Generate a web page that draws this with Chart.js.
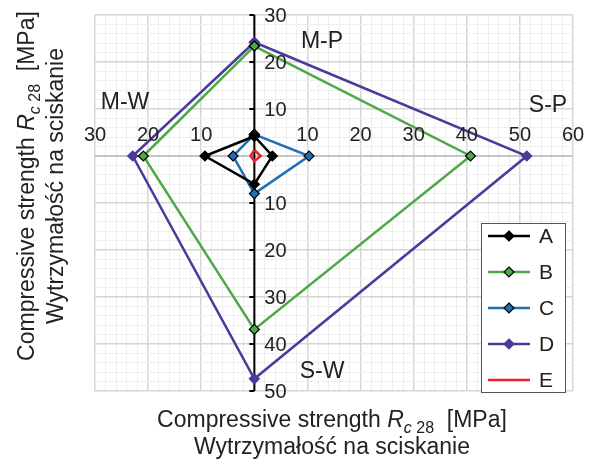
<!DOCTYPE html>
<html><head><meta charset="utf-8">
<script src="https://cdn.jsdelivr.net/npm/chart.js@4.4.1/dist/chart.umd.min.js"></script>
<style>html,body{margin:0;padding:0;background:#fff}#wrap{width:589px;height:462px}</style>
</head><body><div id="wrap"><canvas id="c" width="589" height="462"></canvas></div>
<script>
// Directions: M-P (up), S-P (right), S-W (down), M-W (left)
const categories = ['M-P', 'S-P', 'S-W', 'M-W'];
const seriesNames = ['A', 'B', 'C', 'D', 'E'];
const valuesA = [4.2, 3.4, 6.0, 9.3];
const valuesB = [23.4, 40.7, 36.9, 20.9];
const valuesC = [4.6, 10.3, 8.0, 4.0];
const valuesD = [24.2, 51.3, 47.4, 22.9];
const valuesE = [1.3, 1.2, 1.1, 0.7];
const xTickLabels = [-30, -20, -10, 10, 20, 30, 40, 50, 60];
const yTickLabels = [30, 20, 10, -10, -20, -30, -40, -50];

const colors = ['#000000', '#4EA847', '#1F6FB5', '#4B3A9C', '#E8202A'];
const pointFill = ['#000000', '#4EA847', '#1F6FB5', '#4B3A9C', '#E8202A'];
const pointBorder = ['#000000', '#000000', '#000000', '#4B3A9C', '#E8202A'];
const allValues = [valuesA, valuesB, valuesC, valuesD, valuesE];

function toPoints(v) {
  const pts = [
    {x: 0, y: v[0]},
    {x: v[1], y: 0},
    {x: 0, y: -v[2]},
    {x: -v[3], y: 0}
  ];
  pts.push({x: 0, y: v[0]});
  return pts;
}

const datasets = allValues.map((v, i) => ({
  label: seriesNames[i],
  data: toPoints(v),
  showLine: true,
  borderColor: colors[i],
  borderWidth: 2.5,
  pointStyle: 'rectRot',
  pointRadius: i === 4 ? 0 : 5,
  pointBackgroundColor: pointFill[i],
  pointBorderColor: pointBorder[i],
  pointBorderWidth: 1.2,
  tension: 0
}));

const FONT = '"Liberation Sans", Arial, sans-serif';

function richWidth(ctx, segs) {
  let w = 0;
  segs.forEach(s => { ctx.font = s.font; w += ctx.measureText(s.t).width; });
  return w;
}
function drawRich(ctx, segs, cx, cy) {
  const w = richWidth(ctx, segs);
  let x = cx - w / 2;
  ctx.textBaseline = 'middle';
  ctx.textAlign = 'left';
  segs.forEach(s => {
    ctx.font = s.font;
    ctx.fillText(s.t, x, cy + (s.dy || 0));
    x += ctx.measureText(s.t).width;
  });
}
const titleSegs = [
  {t: 'Compressive strength ', font: '23px ' + FONT},
  {t: 'R', font: 'italic 23px ' + FONT},
  {t: 'c', font: 'italic 16px ' + FONT, dy: 8},
  {t: ' 28', font: '16px ' + FONT, dy: 8},
  {t: '  [MPa]', font: '23px ' + FONT}
];
const title2 = 'Wytrzymałość na sciskanie';

const decor = {
  id: 'decor',
  beforeDatasetsDraw(chart) {
    const ctx = chart.ctx, xs = chart.scales.x, ys = chart.scales.y;
    const x0 = xs.getPixelForValue(0), y0 = ys.getPixelForValue(0);
    ctx.save();
    ctx.strokeStyle = '#bdbdbd';
    ctx.lineWidth = 1.5;
    ctx.beginPath();
    ctx.moveTo(xs.left, y0); ctx.lineTo(xs.right, y0); ctx.stroke();
    ctx.strokeStyle = '#000';
    ctx.lineWidth = 2;
    ctx.beginPath();
    ctx.moveTo(x0, ys.top); ctx.lineTo(x0, ys.bottom); ctx.stroke();
    yTickLabels.forEach(v => {
      const py = ys.getPixelForValue(v);
      ctx.beginPath(); ctx.moveTo(x0 - 5, py); ctx.lineTo(x0, py); ctx.stroke();
    });
    ctx.restore();
  },
  afterDatasetsDraw(chart) {
    const ctx = chart.ctx, xs = chart.scales.x, ys = chart.scales.y;
    const x0 = xs.getPixelForValue(0), y0 = ys.getPixelForValue(0);
    ctx.save();
    ctx.fillStyle = '#222';
    ctx.font = '20px ' + FONT;
    ctx.textBaseline = 'middle';
    ctx.textAlign = 'center';
    xTickLabels.forEach(v => {
      ctx.fillText(String(Math.abs(v)), xs.getPixelForValue(v), y0 - 21);
    });
    ctx.textAlign = 'left';
    yTickLabels.forEach(v => {
      ctx.fillText(String(Math.abs(v)), x0 + 10, ys.getPixelForValue(v) + 1);
    });
    ctx.font = '23px ' + FONT;
    ctx.textAlign = 'center';
    ctx.fillText(categories[0], 322, 42);
    ctx.fillText(categories[1], 548, 106);
    ctx.fillText(categories[2], 322, 372);
    ctx.fillText(categories[3], 125, 103);

    // legend
    const lx = 481, ly = 223, lw = 84, lh = 169;
    ctx.fillStyle = '#fff';
    ctx.fillRect(lx, ly, lw, lh);
    ctx.strokeStyle = '#555';
    ctx.lineWidth = 1;
    ctx.strokeRect(lx + 0.5, ly + 0.5, lw, lh);
    chart.data.datasets.forEach((ds, i) => {
      const ry = 236 + i * 36;
      ctx.strokeStyle = ds.borderColor;
      ctx.lineWidth = 2.5;
      ctx.beginPath(); ctx.moveTo(488, ry); ctx.lineTo(530, ry); ctx.stroke();
      if (ds.pointRadius > 0) {
        ctx.fillStyle = ds.pointBackgroundColor;
        ctx.strokeStyle = ds.pointBorderColor;
        ctx.lineWidth = 1.2;
        ctx.beginPath();
        ctx.moveTo(509, ry - 5); ctx.lineTo(514, ry); ctx.lineTo(509, ry + 5); ctx.lineTo(504, ry); ctx.closePath();
        ctx.fill(); ctx.stroke();
      }
      ctx.fillStyle = '#222';
      ctx.font = '21px ' + FONT;
      ctx.textAlign = 'left';
      ctx.textBaseline = 'middle';
      ctx.fillText(ds.label, 539, ry + 1);
    });

    // axis titles
    ctx.fillStyle = '#222';
    drawRich(ctx, titleSegs, 332, 421);
    ctx.font = '23px ' + FONT;
    ctx.textAlign = 'center';
    ctx.fillText(title2, 332, 448);
    ctx.save();
    ctx.translate(28, 186);
    ctx.rotate(-Math.PI / 2);
    drawRich(ctx, titleSegs, 0, 0);
    ctx.font = '23px ' + FONT;
    ctx.textAlign = 'center';
    ctx.fillText(title2, 0, 29);
    ctx.restore();
    ctx.restore();
  }
};

new Chart(document.getElementById('c'), {
  type: 'scatter',
  data: {datasets},
  options: {
    responsive: false,
    animation: false,
    layout: {padding: {left: 95, top: 15, right: 16, bottom: 71}},
    plugins: {legend: {display: false}, tooltip: {enabled: false}},
    scales: {
      x: {
        type: 'linear', min: -30, max: 60,
        ticks: {stepSize: 2, display: false},
        border: {display: false},
        grid: {
          drawTicks: false,
          color: c => (c.tick.value % 10 === 0 ? '#d6d6d6' : '#eeeeee'),
          lineWidth: c => (c.tick.value % 10 === 0 ? 1.5 : 1)
        }
      },
      y: {
        type: 'linear', min: -50, max: 30,
        ticks: {stepSize: 2, display: false},
        border: {display: false},
        grid: {
          drawTicks: false,
          color: c => (c.tick.value % 10 === 0 ? '#d6d6d6' : '#eeeeee'),
          lineWidth: c => (c.tick.value % 10 === 0 ? 1.5 : 1)
        }
      }
    }
  },
  plugins: [decor]
});
</script></body></html>
